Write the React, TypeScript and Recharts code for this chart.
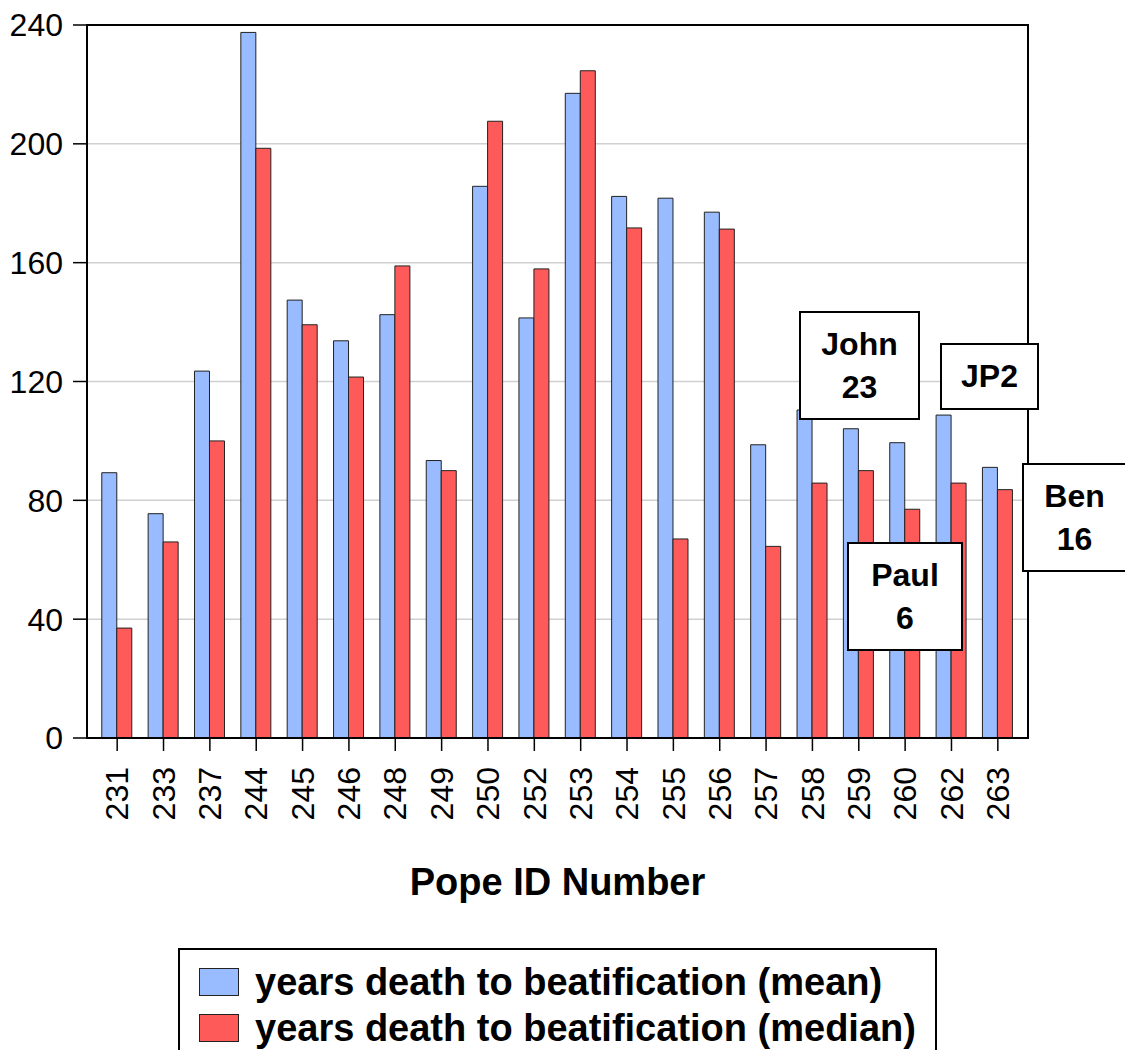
import React from 'react'
import { BarChart, Bar, XAxis, YAxis, CartesianGrid } from 'recharts'

// pope ids on the x axis
const popeIds = ['231', '233', '237', '244', '245', '246', '248', '249', '250', '252',
  '253', '254', '255', '256', '257', '258', '259', '260', '262', '263']

// years from death to beatification
const meanYears = [89.3, 75.5, 123.5, 237.5, 147.4, 133.7, 142.5, 93.4, 185.7, 141.4,
  217.0, 182.3, 181.7, 177.0, 98.7, 110.4, 104.1, 99.4, 108.7, 91.1]
const medianYears = [37.0, 66.0, 100.0, 198.5, 139.1, 121.5, 158.9, 90.0, 207.6, 157.9,
  224.6, 171.7, 67.0, 171.3, 64.5, 85.8, 90.0, 77.0, 85.8, 83.6]

const yTicks = [0, 40, 80, 120, 160, 200, 240]

const seriesNames = ['years death to beatification (mean)', 'years death to beatification (median)']
const seriesColors = ['#99BBFF', '#FF5A5A']

// callout boxes: label lines + box placement
const callouts = [
  { lines: ['John', '23'], left: 799, top: 311, width: 121, height: 109 },
  { lines: ['JP2'], left: 940, top: 343, width: 99, height: 67 },
  { lines: ['Ben', '16'], left: 1022, top: 463, width: 105, height: 109 },
  { lines: ['Paul', '6'], left: 847, top: 542, width: 116, height: 109 },
]

const data = popeIds.map((id, i) => ({ id, mean: meanYears[i], median: medianYears[i] }))

const FONT = 'Arial, "Liberation Sans", sans-serif'

function RotatedTick({ x, y, payload }: any) {
  return (
    <text
      transform={`translate(${x},${y}) rotate(-90)`}
      textAnchor="end"
      dy="0.35em"
      fontSize={32}
      fontFamily={FONT}
      fill="#000"
    >
      {payload.value}
    </text>
  )
}

export default function App() {
  return (
    <div style={{ position: 'absolute', left: 0, top: 0, width: 1125, height: 1050, overflow: 'hidden', background: '#fff', fontFamily: FONT }}>
      <BarChart
        width={1125}
        height={1050}
        data={data}
        margin={{ top: 25, right: 97, left: 0, bottom: 142 }}
        barCategoryGap="16.8%"
        barGap={0}
      >
        <CartesianGrid vertical={false} stroke="#d0d0d0" strokeWidth={1.5} />
        <XAxis
          dataKey="id"
          interval={0}
          padding={{ left: 7, right: 7 }}
          height={170}
          tickSize={13}
          tickMargin={16}
          tick={<RotatedTick />}
          axisLine={{ stroke: '#000', strokeWidth: 2 }}
          tickLine={{ stroke: '#000', strokeWidth: 1.5 }}
          label={{
            value: 'Pope ID Number',
            position: 'insideBottom',
            offset: 13,
            style: { fontSize: 38, fontWeight: 'bold', fill: '#000', fontFamily: FONT },
          }}
        />
        <YAxis
          domain={[0, 240]}
          ticks={yTicks}
          width={87}
          tickSize={14}
          tickMargin={10}
          tick={{ fontSize: 32, fill: '#000', fontFamily: FONT }}
          axisLine={{ stroke: '#000', strokeWidth: 2 }}
          tickLine={{ stroke: '#000', strokeWidth: 1.5 }}
        />
        <Bar dataKey="mean" name={seriesNames[0]} fill={seriesColors[0]} stroke="#222" strokeWidth={1} isAnimationActive={false} />
        <Bar dataKey="median" name={seriesNames[1]} fill={seriesColors[1]} stroke="#222" strokeWidth={1} isAnimationActive={false} />
      </BarChart>

      {/* plot frame (top/right edges) */}
      <div style={{
        position: 'absolute', left: 86, top: 24, width: 943, height: 715,
        boxSizing: 'border-box', border: '2px solid #000', pointerEvents: 'none',
      }} />

      {callouts.map(c => (
        <div
          key={c.lines.join(' ')}
          style={{
            position: 'absolute', left: c.left, top: c.top, width: c.width, height: c.height,
            boxSizing: 'border-box', border: '2px solid #000', background: '#fff',
            display: 'flex', flexDirection: 'column', alignItems: 'center', justifyContent: 'center',
            fontSize: 32, fontWeight: 'bold', lineHeight: '43px', color: '#000',
          }}
        >
          {c.lines.map(l => <div key={l}>{l}</div>)}
        </div>
      ))}

      <div
        style={{
          position: 'absolute', left: 178, top: 948, width: 759, height: 120,
          boxSizing: 'border-box', border: '2px solid #000', background: '#fff',
          paddingTop: 9, paddingLeft: 19,
        }}
      >
        {seriesNames.map((name, i) => (
          <div key={name} style={{ display: 'flex', alignItems: 'center', height: 46 }}>
            <span style={{
              display: 'inline-block', width: 40, height: 28, background: seriesColors[i],
              border: '1px solid #222', boxSizing: 'border-box', marginRight: 16,
            }} />
            <span style={{ fontSize: 38, fontWeight: 'bold', color: '#000', lineHeight: '46px' }}>{name}</span>
          </div>
        ))}
      </div>
    </div>
  )
}
